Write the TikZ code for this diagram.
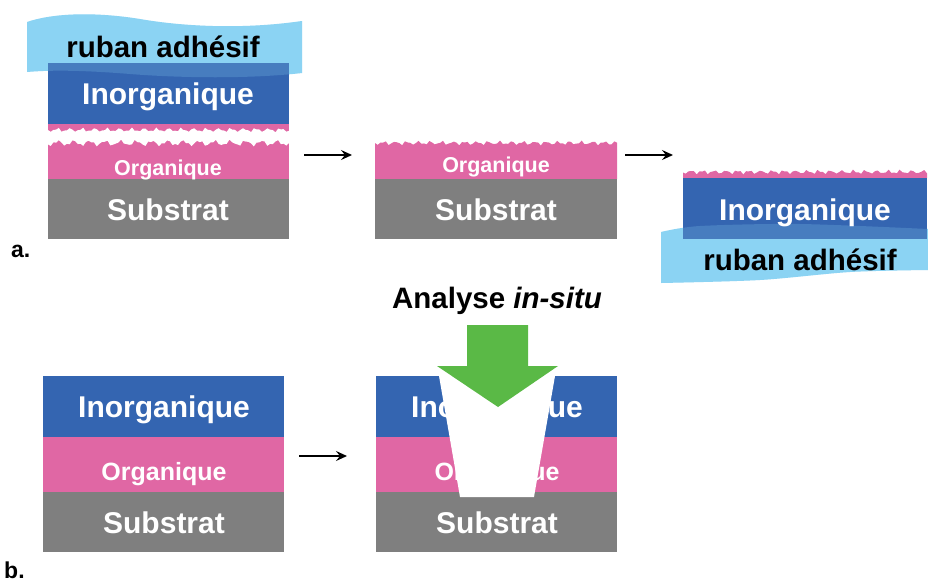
\documentclass[tikz,border=0pt]{standalone}
\usepackage{fontspec}
\setmainfont{Liberation Sans}
\usetikzlibrary{arrows.meta,positioning}

\definecolor{inorgblue}{RGB}{52,101,177}
\definecolor{orgpink}{RGB}{224,103,164}
\definecolor{substgray}{RGB}{127,127,127}
\definecolor{tapeblue}{RGB}{139,211,243}
\definecolor{insitugreen}{RGB}{90,185,70}

\begin{document}
\begin{tikzpicture}[x=1pt, y=-1pt,
  layertext/.style={anchor=base, inner sep=0pt, text=white,
                    font=\fontsize{30}{30}\selectfont\bfseries},
  smalltext/.style={layertext, font=\fontsize{21.5}{22}\selectfont\bfseries},
  midtext/.style={layertext, font=\fontsize{25}{25}\selectfont\bfseries},
  tapetext/.style={layertext, text=black, font=\fontsize{29.5}{30}\selectfont\bfseries},
  panellabel/.style={anchor=base west, inner sep=0pt,
                     font=\fontsize{23}{23}\selectfont\bfseries},
  steparrow/.style={-{Stealth[length=11pt,width=10pt,inset=4pt]}, line width=1.8pt},
  tapeveil/.style={fill=tapeblue, fill opacity=0.22}
]
  \useasboundingbox (0,0) rectangle (928,584);

  % a. peeling with tape
  \fill[tapeblue] (27,22) .. controls (50,14) and (90,11) .. (140,19)
    .. controls (180,26) and (240,30) .. (302,21) -- (302,73)
    .. controls (250,79) and (180,78) .. (130,74) .. controls (80,70) and (50,70) .. (27,72) -- cycle;
  \fill[inorgblue] (48,63) rectangle (289,124);
  \fill[orgpink] (48,124) rectangle (289,179);
  \fill[substgray] (48,179) rectangle (289,239);
  \fill[white] plot[domain=0:241, samples=90] ({48+\x}, {130+1.5*sin(29*\x)+1*sin(59*\x)})
    -- plot[domain=241:0, samples=90] ({48+\x}, {143+2.2*sin(23*\x+40)+1.3*sin(53*\x)}) -- cycle;
  \fill[tapeveil] (27,22) .. controls (50,14) and (90,11) .. (140,19)
    .. controls (180,26) and (240,30) .. (302,21) -- (302,73)
    .. controls (250,79) and (180,78) .. (130,74) .. controls (80,70) and (50,70) .. (27,72) -- cycle;
  \node[tapetext] (tape1) at (163,57) {ruban adhésif};
  \node[layertext] (inorg1) at (168,104) {Inorganique};
  \node[smalltext] (org1) at (168,175) {Organique};
  \node[layertext] (sub1) at (168,220) {Substrat};

  \fill[orgpink] plot[domain=0:242, samples=90] ({375+\x}, {143+1.5*sin(31*\x)+1*sin(57*\x)})
    -- (617,179) -- (375,179) -- cycle;
  \fill[substgray] (375,179) rectangle (617,239);
  \node[smalltext] (org2) at (496,172) {Organique};
  \node[layertext] (sub2) at (496,220) {Substrat};

  \fill[tapeblue] plot[smooth] coordinates {(661,232) (700,226) (800,224) (928,229)}
    -- plot[smooth] coordinates {(928,270) (850,272) (760,280) (661,283)} -- cycle;
  \fill[orgpink] plot[domain=0:244, samples=90] ({683+\x}, {172+1.5*sin(31*\x+20)+1*sin(61*\x)})
    -- (927,178) -- (683,178) -- cycle;
  \fill[inorgblue] (683,178) rectangle (927,239);
  \fill[tapeveil] plot[smooth] coordinates {(661,232) (700,226) (800,224) (928,229)}
    -- plot[smooth] coordinates {(928,270) (850,272) (760,280) (661,283)} -- cycle;
  \node[layertext] (inorg3) at (805,220) {Inorganique};
  \node[tapetext] (tape3) at (800,270) {ruban adhésif};

  \coordinate (a1out) at (304,155);
  \coordinate (a2in) at (352,155);
  \coordinate (a2out) at (625,155);
  \coordinate (a3in) at (673,155);
  \draw[steparrow] (a1out) -- (a2in);
  \draw[steparrow] (a2out) -- (a3in);
  \node[panellabel] (lbla) at (11,257) {a.};

  % b. in-situ analysis
  \fill[inorgblue] (43,376) rectangle (284,437);
  \fill[orgpink] (43,437) rectangle (284,492);
  \fill[substgray] (43,492) rectangle (284,552);
  \node[layertext] (inorg4) at (164,417) {Inorganique};
  \node[midtext] (org4) at (164,480) {Organique};
  \node[layertext] (sub4) at (164,533) {Substrat};

  \fill[inorgblue] (376,376) rectangle (617,437);
  \fill[orgpink] (376,437) rectangle (617,492);
  \fill[substgray] (376,492) rectangle (617,552);
  \node[layertext] (inorg5) at (497,417) {Inorganique};
  \node[midtext] (org5) at (497,480) {Organique};
  \node[layertext] (sub5) at (497,533) {Substrat};
  \fill[white] (439,376) -- (555,376) -- (534,497) -- (460,497) -- cycle;
  \fill[insitugreen] (467,325) -- (528,325) -- (528,366) -- (558,366)
    -- (498,407) -- (437,366) -- (467,366) -- cycle;
  \node[tapetext] (insitu) at (497,308) {Analyse \textit{in-situ}};

  \coordinate (b1out) at (299,456);
  \coordinate (b2in) at (347,456);
  \draw[steparrow] (b1out) -- (b2in);
  \node[panellabel] (lblb) at (4,578) {b.};
\end{tikzpicture}
\end{document}
